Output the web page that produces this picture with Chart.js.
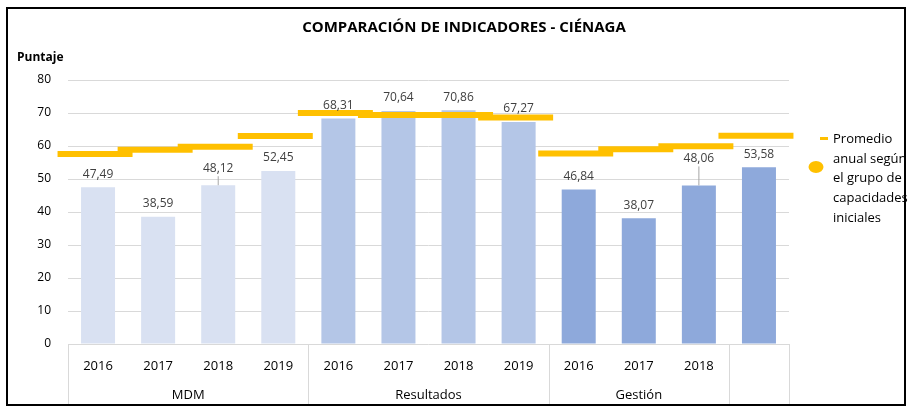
<!DOCTYPE html>
<html>
<head>
<meta charset="utf-8">
<script src="https://cdn.jsdelivr.net/npm/chart.js@4.4.0/dist/chart.umd.min.js"></script>
<style>
  body { margin: 0; background: #fff; }
</style>
</head>
<body>
<canvas id="myChart" width="908" height="407"></canvas>
<script>
var years = ['2016', '2017', '2018', '2019', '2016', '2017', '2018', '2019', '2016', '2017', '2018', ''];
var groups = ['MDM', 'Resultados', 'Gestión', ''];
var groupSizes = [4, 4, 3, 1];
var puntaje = [47.49, 38.59, 48.12, 52.45, 68.31, 70.64, 70.86, 67.27, 46.84, 38.07, 48.06, 53.58];
var promedio = [57.6, 58.9, 59.8, 63.0, 70.0, 69.4, 69.4, 68.6, 57.7, 59.0, 59.9, 63.1];
var yTicks = [0, 10, 20, 30, 40, 50, 60, 70, 80];

var groupColors = ['#D9E1F2', '#B4C6E7', '#8EA9DB', '#8EA9DB'];
var barColors = [];
groupSizes.forEach(function (n, g) {
    for (var k = 0; k < n; k++) barColors.push(groupColors[g]);
});

// labels that sit higher with a leader line
var labelLift = { 2: 4, 10: 14 };

var FONT = '"Open Sans", sans-serif';

var decorations = {
    id: 'decorations',
    beforeDraw: function (chart) {
        var ctx = chart.ctx;
        ctx.save();
        ctx.fillStyle = '#fff';
        ctx.fillRect(0, 0, chart.width, chart.height);
        ctx.restore();
    },
    afterDatasetsUpdate: function (chart) {
        // excel draws the average dashes a little left of the slot centre
        chart.getDatasetMeta(0).data.forEach(function (p) { p.x -= 3; });
    },
    afterDatasetsDraw: function (chart) {
        var ctx = chart.ctx;
        var meta = chart.getDatasetMeta(1);
        ctx.save();
        ctx.font = '12px ' + FONT;
        ctx.textAlign = 'center';
        ctx.textBaseline = 'middle';
        meta.data.forEach(function (bar, i) {
            var lift = labelLift[i] || 0;
            var ty = bar.y - 13 - lift;
            if (lift) {
                ctx.strokeStyle = '#A6A6A6';
                ctx.lineWidth = 1;
                ctx.beginPath();
                ctx.moveTo(bar.x, ty + 8);
                ctx.lineTo(bar.x, bar.y);
                ctx.stroke();
            }
            ctx.fillStyle = '#404040';
            ctx.fillText(puntaje[i].toFixed(2).replace('.', ','), bar.x, ty);
        });
        ctx.restore();
    },
    afterDraw: function (chart) {
        var ctx = chart.ctx;
        var area = chart.chartArea;
        var slot = (area.right - area.left) / years.length;
        ctx.save();

        // title and axis name
        ctx.fillStyle = '#000';
        ctx.font = 'bold 15px ' + FONT;
        ctx.textAlign = 'center';
        ctx.textBaseline = 'middle';
        ctx.fillText('COMPARACIÓN DE INDICADORES - CIÉNAGA', 464, 28);
        ctx.font = 'bold 12px ' + FONT;
        ctx.textAlign = 'left';
        ctx.fillText('Puntaje', 17, 58);

        // group separators and names
        ctx.strokeStyle = '#D9D9D9';
        ctx.lineWidth = 1;
        var start = 0;
        var edges = [0];
        groupSizes.forEach(function (n) { start += n; edges.push(start); });
        edges.forEach(function (e) {
            var px = Math.round(area.left + e * slot) + 0.5;
            ctx.beginPath();
            ctx.moveTo(px, area.bottom);
            ctx.lineTo(px, 405);
            ctx.stroke();
        });
        ctx.fillStyle = '#000';
        ctx.font = '13px ' + FONT;
        ctx.textAlign = 'center';
        groups.forEach(function (name, g) {
            var cx = area.left + (edges[g] + edges[g + 1]) / 2 * slot;
            ctx.fillText(name, cx, 395);
        });

        // legend
        ctx.fillStyle = '#FFC000';
        ctx.fillRect(820, 137, 8, 3);
        ctx.beginPath();
        ctx.ellipse(816, 167, 7.5, 6, 0, 0, Math.PI * 2);
        ctx.fill();
        ctx.fillStyle = '#000';
        ctx.textAlign = 'left';
        ['Promedio', 'anual según', 'el grupo de', 'capacidades', 'iniciales'].forEach(function (t, i) {
            ctx.fillText(t, 833, 139 + i * 19.8);
        });

        // frame
        ctx.strokeStyle = '#000';
        ctx.lineWidth = 2;
        ctx.strokeRect(7, 8, 898, 397);
        ctx.restore();
    }
};

var ctx = document.getElementById('myChart').getContext('2d');
var myChart = new Chart(ctx, {
    type: 'bar',
    data: {
        labels: years,
        datasets: [{
            type: 'line',
            label: 'Promedio anual según el grupo de capacidades iniciales',
            data: promedio,
            showLine: false,
            pointStyle: 'line',
            pointRadius: 37.5,
            pointHoverRadius: 37.5,
            pointBorderWidth: 6,
            pointHoverBorderWidth: 6,
            pointBorderColor: '#FFC000',
            pointBackgroundColor: '#FFC000',
            order: 0
        }, {
            label: 'Puntaje',
            data: puntaje,
            backgroundColor: barColors,
            categoryPercentage: 1,
            barPercentage: 0.566,
            order: 1
        }]
    },
    options: {
        responsive: false,
        animation: false,
        layout: { padding: { left: 0, right: 119, top: 80, bottom: 0 } },
        plugins: {
            legend: { display: false },
            tooltip: { enabled: false }
        },
        scales: {
            x: {
                grid: { display: false, drawTicks: false },
                border: { display: false },
                ticks: { padding: 14, color: '#000', font: { family: FONT, size: 13 }, maxRotation: 0, autoSkip: false },
                afterFit: function (s) { s.height = 63; }
            },
            y: {
                min: 0,
                max: 80,
                afterBuildTicks: function (s) { s.ticks = yTicks.map(function (v) { return { value: v }; }); },
                grid: { color: '#D9D9D9', drawTicks: false },
                border: { display: false },
                ticks: { padding: 17, color: '#000', font: { family: FONT, size: 12 } },
                afterFit: function (s) { s.width = 68; }
            }
        }
    },
    plugins: [decorations]
});
</script>
</body>
</html>
